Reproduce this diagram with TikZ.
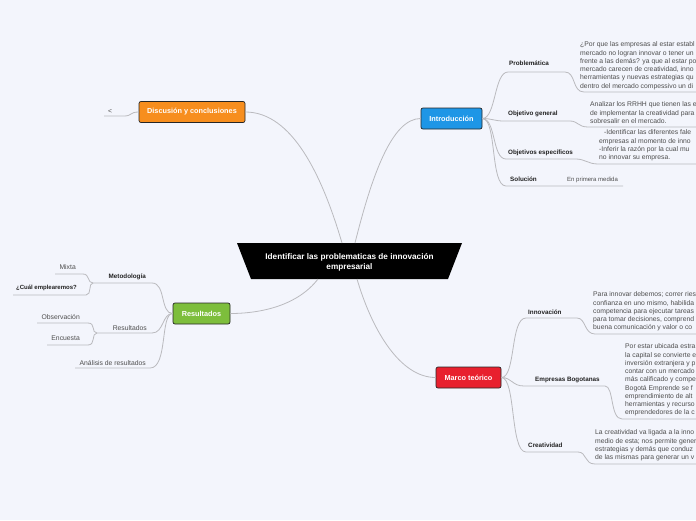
\documentclass[tikz,border=0pt]{standalone}
\usepackage{fontspec}
\setmainfont{Liberation Sans}
\definecolor{bg}{RGB}{243,245,252}
\definecolor{conn}{RGB}{186,186,190}
\definecolor{iblue}{RGB}{30,150,230}
\definecolor{dorange}{RGB}{247,142,30}
\definecolor{rgreen}{RGB}{125,190,60}
\definecolor{mred}{RGB}{232,32,46}
\definecolor{txt}{RGB}{34,34,34}
\definecolor{desc}{RGB}{78,78,78}
\tikzset{
  link/.style={draw=conn, line width=0.8pt},
  topic/.style={draw=black!85, line width=0.7pt, rounded corners=2pt, minimum height=21pt, text=white, font=\bfseries\fontsize{7.3}{9}\selectfont, inner sep=0pt},
  lbl/.style={font=\bfseries\fontsize{6.3}{8}\selectfont, text=txt, inner sep=0pt},
  plain/.style={font=\fontsize{6.8}{8.25}\selectfont, text=desc, inner sep=0pt},
  descr/.style={font=\fontsize{6.8}{8.25}\selectfont, text=desc, inner sep=0pt, align=left, anchor=north west},
}
\begin{document}
\begin{tikzpicture}[x=1pt,y=-1pt]
\useasboundingbox (0,0) rectangle (696,520);
\fill[bg] (0,0) rectangle (696,520);

% central node
\fill[black] (237,243) -- (462,243) -- (448,279) -- (251,279) -- cycle;
\node[text=white, font=\bfseries\fontsize{8.2}{10}\selectfont, align=center, inner sep=0pt] (core) at (349.5,262) {Identificar las problematicas de innovación\\empresarial};
\coordinate (ctl) at (342,243);
\coordinate (ctr) at (355,243);
\coordinate (cbl) at (318,279);
\coordinate (cbr) at (357,279);

% main topics
\node[topic, fill=iblue, minimum width=61pt] (intro) at (451.5,118.5) {Introducción};
\node[topic, fill=dorange, minimum width=106pt] (disc) at (192,112) {Discusión y conclusiones};
\node[topic, fill=rgreen, minimum width=57pt] (res) at (201.5,313.5) {Resultados};
\node[topic, fill=mred, minimum width=65pt] (marco) at (468.5,377.5) {Marco teórico};

% main connectors
\draw[link] (ctl) .. controls (322,175) and (292,112) .. (disc.east);
\draw[link] (ctr) .. controls (372,175) and (392,118.5) .. (intro.west);
\draw[link] (cbl) .. controls (298,305) and (262,313.5) .. (res.east);
\draw[link] (cbr) .. controls (372,330) and (400,377.5) .. (marco.west);

% ---------- Introducción ----------
\node[lbl, anchor=west] (prob) at (509,63) {Problemática};
\node[descr] (probd) at (580,41.8) {¿Por que las empresas al estar establ\\mercado no logran innovar o tener un\\frente a las demás? ya que al estar po\\mercado carecen de creatividad, inno\\herramientas y nuevas estrategias qu\\dentro del mercado compessivo un di};
\node[lbl, anchor=west] (objg) at (508,114) {Objetivo general};
\node[descr] (objgd) at (590,101.8) {Analizar los RRHH que tienen las e\\de implementar la creatividad para a\\sobresalir en el mercado.};
\node[lbl, anchor=west] (obje) at (508,153) {Objetivos específicos};
\node[descr] (objed) at (599,129.8) {\hspace{5pt}-Identificar las diferentes fale\\empresas al momento de inno\\-Inferir la razón por la cual mu\\no innovar su empresa.};
\node[lbl, anchor=west] (sol) at (510,179) {Solución};
\node[plain, font=\fontsize{6}{7}\selectfont, anchor=west] (prim) at (567,180) {En primera medida};

\coordinate (p1) at (508,72);  \coordinate (p2) at (565,72);  \coordinate (p3) at (584,92);  \coordinate (p4) at (700,92);
\coordinate (g1) at (504,121); \coordinate (g2) at (570,121); \coordinate (g3) at (588,127); \coordinate (g4) at (700,127);
\coordinate (e1) at (506,159); \coordinate (e2) at (576,159); \coordinate (e3) at (598,164); \coordinate (e4) at (700,164);
\coordinate (s1) at (506,186); \coordinate (s2) at (623,186);
\draw[link] (intro.east) .. controls (496,118.5) and (494,72) .. (p1) -- (p2) .. controls (576,72) and (572,92) .. (p3) -- (p4);
\draw[link] (intro.east) .. controls (492,118.5) and (494,121) .. (g1) -- (g2) .. controls (578,121) and (578,127) .. (g3) -- (g4);
\draw[link] (intro.east) .. controls (496,118.5) and (492,159) .. (e1) -- (e2) .. controls (585,159) and (588,164) .. (e3) -- (e4);
\draw[link] (intro.east) .. controls (497,118.5) and (490,186) .. (s1) -- (s2);

% ---------- Marco teórico ----------
\node[lbl, anchor=west] (inn) at (528,312) {Innovación};
\node[descr] (innd) at (593,291.8) {Para innovar debemos; correr ries\\confianza en uno mismo, habilida\\competencia para ejecutar tareas\\para tomar decisiones, comprend\\buena comunicación y valor o co};
\node[lbl, anchor=west] (emp) at (535,380) {Empresas Bogotanas};
\node[descr] (empd) at (625,343.8) {Por estar ubicada estra\\la capital se convierte e\\inversión extranjera y p\\contar con un mercado\\más calificado y compe\\Bogotá Emprende se f\\emprendimiento de alt\\herramientas y recurso\\emprendedores de la c};
\node[lbl, anchor=west] (cre) at (528,445) {Creatividad};
\node[descr] (cred) at (595,429.8) {La creatividad va ligada a la inno\\medio de esta; nos permite gener\\estrategias y demás que conduz\\de las mismas para generar un v};

\coordinate (i1) at (526,318); \coordinate (i2) at (577,318); \coordinate (i3) at (595,334); \coordinate (i4) at (700,334);
\coordinate (b1) at (524,386); \coordinate (b2) at (605,386); \coordinate (b3) at (622,419); \coordinate (b4) at (700,419);
\coordinate (r1) at (526,452); \coordinate (r2) at (578,452); \coordinate (r3) at (595,464); \coordinate (r4) at (700,464);
\draw[link] (marco.east) .. controls (516,377.5) and (510,318) .. (i1) -- (i2) .. controls (586,318) and (584,334) .. (i3) -- (i4);
\draw[link] (marco.east) .. controls (512,377.5) and (512,386) .. (b1) -- (b2) .. controls (614,386) and (610,419) .. (b3) -- (b4);
\draw[link] (marco.east) .. controls (516,377.5) and (510,452) .. (r1) -- (r2) .. controls (587,452) and (584,464) .. (r3) -- (r4);

% ---------- Discusión ----------
\node[plain, anchor=center] (lt) at (110,112) {<};
\coordinate (d1) at (124,116); \coordinate (d2) at (104,116);
\draw[link] (disc.west) .. controls (130,112) and (132,116) .. (d1) -- (d2);

% ---------- Resultados ----------
\node[lbl, anchor=east] (met) at (146,277) {Metodología};
\node[plain, anchor=east] (mix) at (76,267) {Mixta};
\node[lbl, font=\bfseries\fontsize{6}{8}\selectfont, anchor=east] (cual) at (77,288) {¿Cuál emplearemos?};
\node[plain, text=txt!80, anchor=east] (ressub) at (147,328) {Resultados};
\node[plain, anchor=east] (obs) at (80,317) {Observación};
\node[plain, anchor=east] (enc) at (80,338) {Encuesta};
\node[plain, anchor=east] (ana) at (146,363) {Análisis de resultados};

\coordinate (m1) at (152,283); \coordinate (m2) at (93,283);
\coordinate (x1) at (83,274);  \coordinate (x2) at (55,274);
\coordinate (q1) at (86,295);  \coordinate (q2) at (13,295);
\coordinate (u1) at (152,333); \coordinate (u2) at (97,333);
\coordinate (o1) at (88,323);  \coordinate (o2) at (37,323);
\coordinate (n1) at (88,345);  \coordinate (n2) at (47,345);
\coordinate (a1) at (150,368); \coordinate (a2) at (75,368);
\draw[link] (res.west) .. controls (160,313.5) and (166,283) .. (m1) -- (m2);
\draw[link] (m2) .. controls (87,283) and (90,274) .. (x1) -- (x2);
\draw[link] (m2) .. controls (88,283) and (92,295) .. (q1) -- (q2);
\draw[link] (res.west) .. controls (162,313.5) and (164,333) .. (u1) -- (u2);
\draw[link] (u2) .. controls (91,333) and (96,323) .. (o1) -- (o2);
\draw[link] (u2) .. controls (91,333) and (96,345) .. (n1) -- (n2);
\draw[link] (res.west) .. controls (160,313.5) and (168,368) .. (a1) -- (a2);
\end{tikzpicture}
\end{document}
